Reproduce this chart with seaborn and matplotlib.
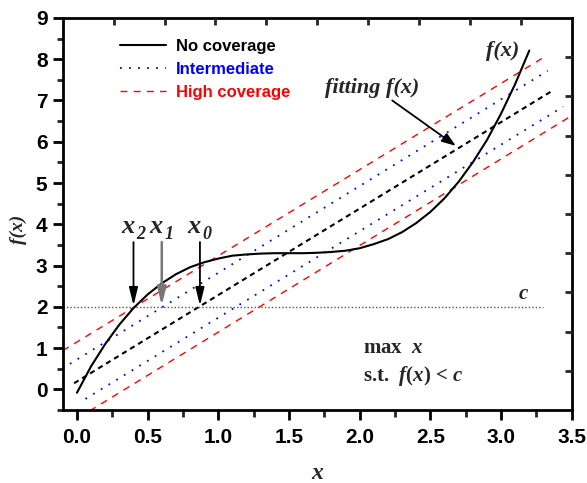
import numpy as np
import pandas as pd
import matplotlib
matplotlib.use("Agg")
import matplotlib.pyplot as plt
import seaborn as sns
from matplotlib.lines import Line2D

# ---- data ----
curve_x = [0.0, 0.1, 0.2, 0.3, 0.4, 0.5, 0.6, 0.7, 0.8, 0.9, 1.0, 1.1, 1.2, 1.3, 1.4, 1.5,
           1.6, 1.7, 1.8, 1.9, 2.0, 2.1, 2.2, 2.3, 2.4, 2.5, 2.6, 2.7, 2.8, 2.9, 3.0, 3.1, 3.2]
curve_y = [-0.08, 0.56, 1.10, 1.57, 1.97, 2.30, 2.57, 2.79, 2.96, 3.08, 3.17, 3.24, 3.27, 3.29, 3.30, 3.30,
           3.30, 3.31, 3.33, 3.36, 3.42, 3.52, 3.64, 3.81, 4.03, 4.30, 4.63, 5.03, 5.50, 6.04, 6.68, 7.40, 8.21]

fit_x = [-0.02, 3.37]
fit_y = [0.15, 7.25]
inter_up_x = [-0.05, 3.33]
inter_up_y = [0.62, 7.72]
inter_lo_x = [0.06, 3.44]
inter_lo_y = [-0.23, 6.85]
high_up_x = [-0.10, 3.31]
high_up_y = [0.94, 8.06]
high_lo_x = [0.09, 3.48]
high_lo_y = [-0.52, 6.59]

c_value = 2.0
c_x = [-0.10, 3.30]
x_marks = [0.40, 0.60, 0.87]
x_mark_subs = ["2", "1", "0"]
legend_labels = ["No coverage", "Intermediate", "High coverage"]
x_ticks = [0.0, 0.5, 1.0, 1.5, 2.0, 2.5, 3.0, 3.5]
y_ticks = [0, 1, 2, 3, 4, 5, 6, 7, 8, 9]

# ---- style ----
sns.set_theme(style="ticks")
plt.rcParams["font.family"] = ["Liberation Sans", "DejaVu Sans"]
plt.rcParams["mathtext.fontset"] = "custom"
plt.rcParams["mathtext.rm"] = "Liberation Serif:bold"
plt.rcParams["mathtext.it"] = "Liberation Serif:italic:bold"
plt.rcParams["mathtext.bf"] = "Liberation Serif:bold"

SERIF = ["Liberation Serif", "DejaVu Serif"]

fig = plt.figure(figsize=(5.87, 4.83), dpi=100)
ax = fig.add_axes([0.107, 0.151, 0.867, 0.812])

# bands
sns.lineplot(x=high_up_x, y=high_up_y, ax=ax, color="red", linewidth=1.0,
             linestyle=(0, (5, 4.5)), sort=False)
sns.lineplot(x=high_lo_x, y=high_lo_y, ax=ax, color="red", linewidth=1.0,
             linestyle=(0, (5, 4.5)), sort=False)
sns.lineplot(x=inter_up_x, y=inter_up_y, ax=ax, color="blue", linewidth=1.3,
             linestyle=(0, (1, 4)), sort=False)
sns.lineplot(x=inter_lo_x, y=inter_lo_y, ax=ax, color="blue", linewidth=1.3,
             linestyle=(0, (1, 4)), sort=False)
sns.lineplot(x=fit_x, y=fit_y, ax=ax, color="black", linewidth=1.5,
             linestyle=(0, (2.5, 2)), sort=False)
# c line
sns.lineplot(x=c_x, y=[c_value, c_value], ax=ax, color="#555555", linewidth=1.0,
             linestyle=(0, (1, 1.5)), sort=False)
# f(x)
sns.lineplot(x=curve_x, y=curve_y, ax=ax, color="black", linewidth=1.5, sort=False)

ax.set_xlim(-0.1, 3.5)
ax.set_ylim(-0.5, 9)
ax.set_xticks(x_ticks)
ax.set_xticklabels([f"{v:.1f}" for v in x_ticks])
ax.set_yticks(y_ticks)
ax.set_xticks(np.arange(0.25, 3.5, 0.5), minor=True)
ax.set_yticks(np.arange(-0.5, 9.0, 1.0), minor=True)

for sp in ax.spines.values():
    sp.set_linewidth(2.0)
    sp.set_color("black")

ax.tick_params(axis="x", which="major", direction="out", length=7, width=2,
               labelsize=15, pad=6, colors="black")
ax.tick_params(axis="x", which="minor", direction="out", length=5, width=2)
ax.tick_params(axis="y", which="major", direction="out", length=7, width=2,
               labelsize=15, pad=4, colors="black")
ax.tick_params(axis="y", which="minor", direction="out", length=4, width=2)
for lab in ax.get_xticklabels() + ax.get_yticklabels():
    lab.set_fontweight("bold")

ax.set_xlabel("x", fontsize=17, fontstyle="italic", fontweight="bold", family=SERIF)
ax.set_ylabel("f(x)", fontsize=14, fontstyle="italic", fontweight="bold", family=SERIF)
ax.xaxis.set_label_coords(0.5, -0.135)
ax.yaxis.set_label_coords(-0.07, 0.46)

# top / right secondary ticks (Origin style, 10 divisions)
axt = ax.twiny()
axt.set_xlim(0, 10)
axt.set_xticks(range(1, 10))
axt.tick_params(axis="x", which="major", direction="in", length=5, width=2,
                labeltop=False, top=True)
axr = ax.twinx()
axr.set_ylim(0, 10)
axr.set_yticks(range(1, 10))
axr.tick_params(axis="y", which="major", direction="in", length=5, width=2,
                labelright=False, right=True)
for a in (axt, axr):
    for sp in a.spines.values():
        sp.set_visible(False)
    a.grid(False)

# arrows and labels for x marks
arrow_colors = ["black", "#777777", "black"]
for xm, sub, col in zip(x_marks, x_mark_subs, arrow_colors):
    ax.annotate("", xy=(xm, c_value + 0.03), xytext=(xm, 3.57),
                arrowprops=dict(arrowstyle="-|>,head_length=0.9,head_width=0.22",
                                color=col, lw=1.3 if col == "black" else 1.8,
                                shrinkA=0, shrinkB=0))
    ax.annotate("x", xy=(xm - 0.005, 3.8), xytext=(1.0, 0), textcoords="offset points",
                fontsize=19, fontstyle="italic", fontweight="bold", family=SERIF,
                ha="right", va="baseline")
    ax.annotate(sub, xy=(xm - 0.005, 3.8), xytext=(2.5, -4.5), textcoords="offset points",
                fontsize=13, fontstyle="italic", fontweight="bold", family=SERIF,
                ha="left", va="baseline")

# annotations
ax.text(3.01, 8.2, "f(x)", fontsize=16, fontstyle="italic", fontweight="bold",
        family=SERIF, ha="center", va="center")
ax.text(2.09, 7.3, "fitting f(x)", fontsize=16, fontstyle="italic", fontweight="bold",
        family=SERIF, ha="center", va="center")
ax.annotate("", xy=(2.68, 5.9), xytext=(2.23, 7.0),
            arrowprops=dict(arrowstyle="-|>,head_length=0.7,head_width=0.25",
                            color="black", lw=1.3, shrinkA=0, shrinkB=0))
ax.text(3.16, 2.2, "c", fontsize=15, fontstyle="italic", fontweight="bold",
        family=SERIF, ha="center", va="baseline")
ax.text(2.02, 0.88, r"max  $x$", fontsize=15, fontweight="bold", family=SERIF,
        ha="left", va="baseline")
ax.text(2.02, 0.2, r"s.t.  $\mathit{f(x)}$ < $c$", fontsize=15, fontweight="bold",
        family=SERIF, ha="left", va="baseline")

# legend
handles = [
    Line2D([], [], color="black", linewidth=1.5),
    Line2D([], [], color="blue", linewidth=1.3, linestyle=(0, (1, 4))),
    Line2D([], [], color="red", linewidth=1.0, linestyle=(0, (5, 4.5))),
]
leg = ax.legend(handles, legend_labels, loc="upper left", bbox_to_anchor=(0.105, 0.955),
                frameon=False, prop=dict(family="Liberation Sans", weight="bold", size=12),
                handlelength=2.8, handletextpad=0.6, labelspacing=0.47, borderpad=0.2,
                borderaxespad=0)
for txt, col in zip(leg.get_texts(), ["black", "blue", "red"]):
    txt.set_color(col)

fig.savefig("out.png", dpi=100)
